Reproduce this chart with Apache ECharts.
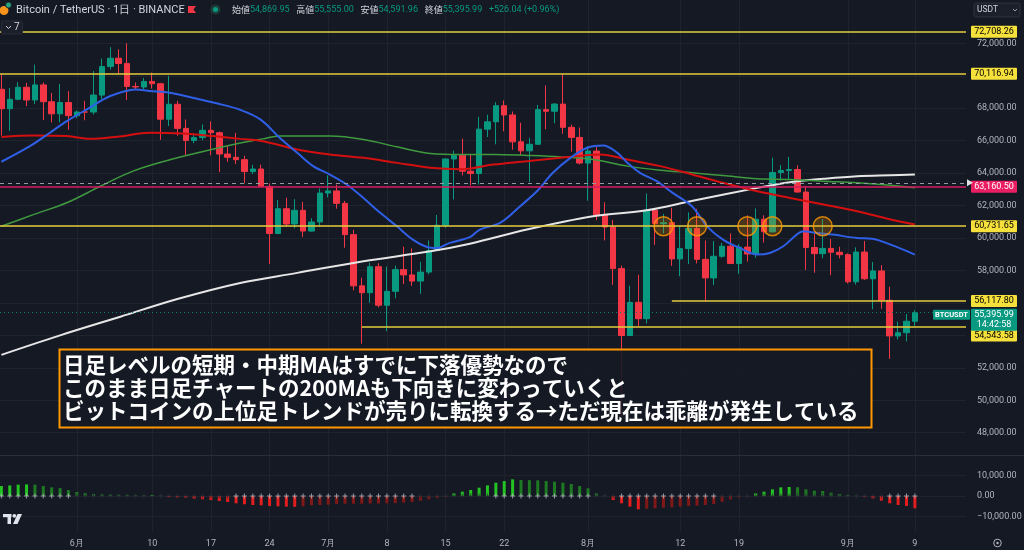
<!DOCTYPE html>
<html><head><meta charset="utf-8">
<script src="https://cdn.jsdelivr.net/npm/echarts@6/dist/echarts.min.js"></script>
<style>html,body{margin:0;padding:0;background:#151924;}#c{width:1024px;height:550px;}</style>
</head><body><div id="c"></div>
<script>
// ---------- DATA ----------
// Daily candles, 2024-05-23 .. 2024-09-09, index 0 = May 23. [open, high, low, close]
const candles = [
[69166,70096,66312,67970],[67970,69250,66600,68549],[68549,69610,68500,69290],[69290,69562,68128,68507],
[68507,70687,68250,69436],[69436,69591,67277,68399],[68399,68935,67124,67652],[67652,69500,67128,68352],
[68352,69044,66670,67540],[67540,67860,67386,67766],[67766,68460,67257,67765],[67765,70288,67612,68809],
[68809,71063,68567,70567],[70567,71758,70383,71082],[71082,71625,70119,70757],[70757,71997,68500,69343],
[69343,69584,69180,69306],[69306,69860,69131,69648],[69648,70196,69208,69509],[69509,69560,66051,67321],
[67321,69999,66902,68243],[68243,68450,66304,66756],[66756,67303,65078,66011],[66011,66447,65846,66191],
[66191,66999,66024,66639],[66639,67188,65094,66490],[66490,66556,64060,65175],[65175,65727,64693,64975],
[64975,66482,64559,64828],[64828,65066,63379,64097],[64097,64520,63943,64253],[64253,64527,63178,63180],
[63180,63370,58402,60277],[60277,62350,60240,61804],[61804,62480,60714,60864],[60864,62389,60606,61706],
[61706,62225,60063,60427],[60427,61224,60383,60987],[60987,63058,60712,62772],[62772,63862,62497,62900],
[62900,63288,61806,62135],[62135,62285,59400,60208],[60208,60498,56771,57050],[57050,57546,53485,56628],
[56628,58475,56018,58230],[58230,58449,55724,55857],[55857,58236,54260,56714],[56714,58296,56289,58052],
[58052,59470,57157,57725],[57725,59360,57052,57345],[57345,58526,56554,57899],[57899,59850,57756,59231],
[59231,61420,59218,60787],[60787,64900,60632,64870],[64870,65388,62373,65098],[65098,66128,63858,64118],
[64118,65133,63238,63974],[63974,67474,63300,66710],[66710,67598,66222,67163],[67163,68373,65777,68154],
[68154,68480,66574,67585],[67585,67798,65441,65927],[65927,67102,65111,65372],[65372,66175,63456,65777],
[65777,68200,65749,67912],[67912,69399,66705,67813],[67813,68318,67066,68255],[68255,70079,66428,66819],
[66819,66987,65323,66201],[66201,66810,64532,64619],[64619,65659,62302,65357],[65357,65596,61100,61415],
[61415,62198,59850,60680],[60680,61117,57122,58116],[58116,58305,49000,53991],[53991,57059,53973,56034],
[56034,57736,54558,55027],[55027,62745,54730,61711],[61711,61800,59575,60880],[60880,61488,60288,60945],
[60945,61858,58286,58713],[58713,60699,57642,59346],[59346,61578,58392,60588],[60588,61800,58433,58685],
[58685,59849,56078,57541],[57541,59817,57098,58874],[58874,59700,58785,59491],[59491,60284,58408,58427],
[58427,59618,57787,59438],[59438,61400,58548,59013],[59013,61820,58783,61157],[61157,61400,59724,60382],
[60382,64955,60342,64038],[64038,64494,63531,64157],[64157,64999,63594,64220],[64220,64481,62800,62834],
[62834,63212,58034,59415],[59415,60234,57860,59034],[59034,61166,58756,59359],[59359,59944,57703,59123],
[59123,59462,58744,58973],[58973,59054,57201,57301],[57301,59425,57128,59132],[59132,59809,57415,57487],
[57487,58519,55606,57971],[57971,58327,55643,56160],[56160,56995,52550,53962],[53962,54850,53745,54160],
[54160,55318,53629,54870],[54869.95,55555,54591.96,55395.99]
];
// Moving averages: [day index, price]
const maBlue = [[0,64700],[3.4,65660],[5.8,66490],[7.8,67200],[10.2,67930],[13,68750],[16,69160],[17.7,69060],[20.1,68950],[23.7,68540],[25.7,68300],[28.5,67900],[30.9,67310],[33.2,66180],[35.3,65250],[37.2,64430],[39.2,63910],[41.2,63300],[43.2,62470],[45.2,61550],[47.2,60720],[49.1,59900],[50.8,59450],[52,59390],[53.5,59700],[55.9,60050],[57.1,60520],[59.5,60930],[61.9,61960],[63.9,62880],[65.8,64020],[67.9,64940],[69.9,65560],[71.8,65700],[73.5,65250],[74.7,64630],[76.2,64020],[78.2,63500],[80.1,62780],[82.4,61960],[84.2,60720],[86.1,59900],[88.1,59390],[90.2,58980],[91.7,59080],[93.3,59490],[94.9,60210],[95.7,60410],[97.3,60310],[99.2,60210],[102.1,60000],[103.9,59960],[106.1,59590],[109,58980]];
const maRed = [[0,66230],[3.8,66320],[7.8,66280],[10.6,66110],[13.8,66240],[17.7,66490],[21.7,66440],[25.3,66280],[28.5,66110],[31.2,65970],[35.3,65460],[39.2,65150],[43.2,64940],[47.2,64630],[51.2,64330],[54.7,64240],[58.7,64530],[62.7,64730],[66.7,64940],[71.4,65150],[74.7,64840],[78.6,64430],[82.2,63950],[86.1,63400],[90.2,62880],[94.1,62470],[98.1,62060],[102.1,61650],[106.1,61140],[109,60830]];
const maGreen = [[0,60720],[3.8,61440],[7.8,62170],[11.8,63190],[15.7,64120],[19.8,64780],[23.7,65290],[28.5,65850],[31.2,66110],[33.2,66280],[39.2,66280],[43.2,66070],[47.2,65620],[51.2,65210],[54.7,65150],[58.7,65150],[62.7,65090],[66.7,65000],[70.6,64840],[74.7,64430],[78.6,64180],[82.4,64020],[86.1,63850],[90.2,63650],[94.1,63610],[98.1,63500],[102.1,63400],[106.1,63250],[109,63090]];
const maWhite = [[0,52800],[7,54000],[14.2,55150],[21,56240],[28.5,57230],[35.3,57850],[43.2,58570],[51.2,59180],[55.9,59650],[62.7,60520],[70.6,61340],[77,61710],[82.5,62300],[90.2,63090],[94.1,63440],[98.1,63650],[102.1,63810],[106.1,63870],[109,63910]];
// Momentum histogram (lower pane), one value per day
const momentum = [4900,5200,5600,5700,5550,4900,4250,3900,2940,1960,1470,980,820,650,600,560,330,300,490,160,
-490,-650,-820,-1300,-1630,-1960,-2450,-2940,-3600,-4080,-4410,-4570,-4900,-5070,-5230,-5300,-5070,-4570,-4410,-4250,
-3900,-3800,-3780,-3760,-3700,-3650,-3600,-3500,-3270,-2940,-2290,-1630,-980,-330,1300,2120,2940,4080,5230,6540,
7350,8170,7840,7800,7700,7350,7030,6540,5880,4900,3760,1310,160,-1960,-3600,-5230,-6540,-6210,-6050,-5720,
-5560,-5230,-4900,-4740,-4410,-3920,-2780,-1630,-650,-160,1310,2120,3270,4250,4410,4300,3270,2610,2450,1630,
980,490,160,-330,-1140,-2290,-3600,-4410,-4900,-6050];
const squeezeRanges = [[9,27],[50,58],[71,73],[86,105]]; // day ranges with dark zero-line crosses
// Time axis
const tickIdx = [9,18,25,32,39,46,53,60,70,81,88,101,109];
const tickLabels = ['6月','10','17','24','7月','8','15','22','8月','12','19','9月','9'];
// Price axis
const priceTicks = [48000,50000,52000,54000,56000,58000,60000,62000,64000,66000,68000,70000,72000];
const priceLabels = [48000,50000,52000,58000,60000,62000,64000,66000,68000,72000];
const momTicks = [-10000,0,10000];
// Drawn levels
const yellowFull = [72708.26, 70116.94, 60731.65];
const yellowPartial = [[80,56117.80],[43,54543.58]]; // [start day, price]
const magentaLevel = 63160.50;
const dashedLevel = 63380;
const lastPrice = 55395.99;
const circleDays = [79,83,89,92,98];
const circleLevel = 60731.65;
const header = {o:'54,869.95', h:'55,555.00', l:'54,591.96', c:'55,395.99', chg:'+526.04 (+0.96%)'};
const noteLines = ['日足レベルの短期・中期MAはすでに下落優勢なので','このまま日足チャートの200MAも下向きに変わっていくと','ビットコインの上位足トレンドが売りに転換する→ただ現在は乖離が発生している'];

// ---------- CHART ----------
const UP='#089981', DOWN='#f23645', YEL='#e3cc3c', TAGY='#f5e03c', GRIDC='#1f232e', AXT='#b2b5be';
const X_MIN=-0.167, X_MAX=115.1;
const chart = echarts.init(document.getElementById('c'));
const fmtP = v => (v<0?'−':'') + Math.abs(v).toLocaleString('en-US',{minimumFractionDigits:2,maximumFractionDigits:2});
const candleData = candles.map((d,i)=>[i,d[0],d[3],d[2],d[1]]);
const inSq = i => squeezeRanges.some(r=>i>=r[0]&&i<=r[1]);

const markData = [];
yellowFull.forEach(p=>markData.push({yAxis:p, lineStyle:{color:YEL,width:1.5,type:'solid'}}));
yellowPartial.forEach(d=>markData.push([{coord:[d[0],d[1]], lineStyle:{color:YEL,width:1.5,type:'solid'}},{coord:[X_MAX,d[1]]}]));
markData.push({yAxis:magentaLevel, lineStyle:{color:'#d81b60',width:1.5,type:'solid'}});
markData.push({yAxis:dashedLevel, lineStyle:{color:'#9598a1',width:1,type:[4,4]}});
markData.push({yAxis:lastPrice, lineStyle:{color:'#0d7d6c',width:1,type:[1,3]}});

const maLine = (data,color,w)=>({type:'line',xAxisIndex:0,yAxisIndex:0,data,smooth:0.35,symbol:'none',silent:true,lineStyle:{color,width:w},z:4});

const option = {
  backgroundColor:'#151924',
  animation:false,
  grid:[{left:0,top:0,width:966,height:455,outerBoundsMode:'none'},{left:0,top:456,width:966,height:76,outerBoundsMode:'none'}],
  xAxis:[
    {type:'value',gridIndex:0,min:X_MIN,max:X_MAX,axisLine:{show:false},axisLabel:{show:false},axisTick:{show:false,customValues:tickIdx},splitLine:{show:true,lineStyle:{color:GRIDC,width:1}}},
    {type:'value',gridIndex:1,min:X_MIN,max:X_MAX,axisLine:{show:false},axisTick:{show:false,customValues:tickIdx},
     axisLabel:{show:true,customValues:tickIdx,formatter:v=>tickLabels[tickIdx.indexOf(Math.round(v))]||'',color:AXT,fontSize:9,margin:7,fontFamily:'Roboto'},
     splitLine:{show:true,lineStyle:{color:GRIDC,width:1}}}
  ],
  yAxis:[
    {type:'value',gridIndex:0,position:'right',min:46626,max:74669,axisLine:{show:false},axisTick:{show:false,customValues:priceTicks},
     axisLabel:{customValues:priceLabels,formatter:fmtP,color:AXT,fontSize:9,margin:11,fontFamily:'Roboto'},
     splitLine:{show:true,lineStyle:{color:GRIDC,width:1}}},
    {type:'value',gridIndex:1,position:'right',min:-17690,max:19656,axisLine:{show:false},axisTick:{show:false,customValues:momTicks},
     axisLabel:{customValues:momTicks,formatter:fmtP,color:AXT,fontSize:9,margin:11,fontFamily:'Roboto'},
     splitLine:{show:true,lineStyle:{color:GRIDC,width:1}}}
  ],
  series:[
    {type:'candlestick',xAxisIndex:0,yAxisIndex:0,data:candleData,encode:{x:0,y:[1,2,3,4]},barWidth:6,silent:true,z:3,
     itemStyle:{color:UP,color0:DOWN,borderColor:UP,borderColor0:DOWN,borderWidth:1},
     markLine:{silent:true,symbol:['none','none'],label:{show:false},emphasis:{disabled:true},animation:false,data:markData,z:5}},
    maLine(maWhite,'#e6e6e6',2),
    maLine(maGreen,'#3f9a3f',1.5),
    maLine(maRed,'#d40f0f',2),
    maLine(maBlue,'#2f5fe6',2),
    {type:'scatter',xAxisIndex:0,yAxisIndex:0,data:circleDays.map(d=>[d,circleLevel]),symbolSize:19,silent:true,z:6,
     itemStyle:{color:'rgba(255,152,0,0.28)',borderColor:'#ff9800',borderWidth:1.5}},
    {type:'bar',xAxisIndex:1,yAxisIndex:1,data:momentum.map((v,i)=>[i,v]),barWidth:3,silent:true,
     itemStyle:{color:p=>{const i=p.dataIndex,v=momentum[i],pv=i>0?momentum[i-1]:v;
       return v>=0?(v>=pv?'#22c322':'#1d7a23'):(v<=pv?'#e21d1d':'#801818');}}},
    {type:'scatter',xAxisIndex:1,yAxisIndex:1,data:momentum.map((v,i)=>[i,0]),symbol:'path://M4,0H6V4H10V6H6V10H4V6H0V4H4Z',symbolSize:5,silent:true,z:5,
     itemStyle:{color:p=>inSq(p.dataIndex)?'#2a2d36':'#b8bac0'}}
  ]
};
chart.setOption(option);

// ---------- ANNOTATIONS (positions from the axes) ----------
const py = v => chart.convertToPixel({yAxisIndex:0}, v);
const px = d => chart.convertToPixel({xAxisIndex:0}, d);
const G = [];
const tag = (v,text,bg,fg,dy)=>{const y=py(v)+dy;
  G.push({type:'rect',z:100,shape:{x:971,y:y-6,width:46,height:12,r:1},style:{fill:bg}});
  G.push({type:'text',z:101,x:994,y:y,style:{text,fill:fg,fontSize:9,fontFamily:'Roboto',align:'center',verticalAlign:'middle'}});};
tag(yellowFull[0],fmtP(yellowFull[0]),TAGY,'#000',0);
tag(yellowFull[1],fmtP(yellowFull[1]),TAGY,'#000',0);
tag(magentaLevel,fmtP(magentaLevel),'#e91e63','#fff',0);
tag(yellowFull[2],fmtP(yellowFull[2]),TAGY,'#000',0);
tag(yellowPartial[0][1],fmtP(yellowPartial[0][1]),TAGY,'#000',0);
tag(yellowPartial[1][1],fmtP(yellowPartial[1][1]),TAGY,'#000',9);
// last price tag
{const y=py(lastPrice);
 G.push({type:'rect',z:100,shape:{x:971,y:y-4,width:46,height:22,r:1},style:{fill:UP}});
 G.push({type:'text',z:101,x:994,y:y+2,style:{text:fmtP(lastPrice),fill:'#fff',fontSize:9,fontFamily:'Roboto',align:'center',verticalAlign:'middle'}});
 G.push({type:'text',z:101,x:994,y:y+12,style:{text:'14:42:58',fill:'#fff',fontSize:9,fontFamily:'Roboto',align:'center',verticalAlign:'middle'}});
 G.push({type:'rect',z:100,shape:{x:933,y:y-3,width:37,height:10,r:1},style:{fill:UP}});
 G.push({type:'text',z:101,x:951.5,y:y+2,style:{text:'BTCUSDT',fill:'#fff',fontSize:7.5,fontWeight:'bold',fontFamily:'Roboto',align:'center',verticalAlign:'middle'}});}
// dashed line end marker
{const y=py(dashedLevel); G.push({type:'polygon',z:100,shape:{points:[[967,y-4],[967,y+3],[973,y-0.5]]},style:{fill:'#e0e0e0'}});}
// pane separator
G.push({type:'line',z:100,shape:{x1:0,y1:455.5,x2:1024,y2:455.5},style:{stroke:'#2a2e39',lineWidth:1}});
// note box
G.push({type:'rect',z:100,shape:{x:59.5,y:349.5,width:812,height:78},style:{fill:'rgba(21,25,36,0.88)',stroke:'#ff9800',lineWidth:2}});
G.push({type:'text',z:101,x:63,y:353,style:{text:noteLines.join('\n'),fill:'#ffffff',fontSize:21.5,lineHeight:23,fontWeight:'bold',fontFamily:'"Noto Sans CJK JP"',verticalAlign:'top'}});
// header
G.push({type:'circle',z:100,shape:{cx:4,cy:10.5,r:4.5},style:{fill:'#f7931a'}});
G.push({type:'circle',z:101,shape:{cx:8.5,cy:5,r:3},style:{fill:'#26a17b',stroke:'#151924',lineWidth:0.8}});
G.push({type:'text',z:100,x:16,y:10,style:{text:'Bitcoin / TetherUS · 1日 · BINANCE',fill:'#d1d4dc',fontSize:11,fontFamily:'Roboto',verticalAlign:'middle'}});
G.push({type:'polygon',z:100,shape:{points:[[188,6],[196,6],[193.5,9.5],[196,13],[188,13]]},style:{fill:'#f23645'}});
G.push({type:'circle',z:100,shape:{cx:215.5,cy:9.5,r:5},style:{fill:'#1d3b37'}});
G.push({type:'circle',z:101,shape:{cx:215.5,cy:9.5,r:2.5},style:{fill:UP}});
G.push({type:'text',z:100,x:232,y:10,style:{text:`{l|始値}{v|${header.o}}  {l|高値}{v|${header.h}}  {l|安値}{v|${header.l}}  {l|終値}{v|${header.c}}  {v|${header.chg}}`,
  verticalAlign:'middle',rich:{l:{fill:'#d1d4dc',fontSize:9,fontFamily:'"Noto Sans CJK JP"'},v:{fill:UP,fontSize:9,fontFamily:'Roboto'}}}});
G.push({type:'rect',z:100,shape:{x:1.5,y:21,width:21,height:13,r:2},style:{fill:'#1b1f2a',stroke:'#2a2e39',lineWidth:1}});
G.push({type:'polyline',z:101,shape:{points:[[6,26],[8.5,28.5],[11,26]]},style:{stroke:'#d1d4dc',lineWidth:1,fill:null}});
G.push({type:'text',z:101,x:14,y:27.5,style:{text:'7',fill:'#d1d4dc',fontSize:10,fontFamily:'Roboto',verticalAlign:'middle'}});
// USDT button
G.push({type:'rect',z:100,shape:{x:974,y:3,width:46,height:14,r:2},style:{fill:'#1c202b',stroke:'#2e323d',lineWidth:1}});
G.push({type:'text',z:101,x:977,y:10,style:{text:'USDT',fill:'#d1d4dc',fontSize:8.5,fontFamily:'Roboto',verticalAlign:'middle'}});
G.push({type:'polyline',z:101,shape:{points:[[1013,9],[1015,11],[1017,9]]},style:{stroke:'#9598a1',lineWidth:1,fill:null}});
// TradingView logo
G.push({type:'rect',z:100,shape:{x:3,y:514,width:8.5,height:3.2},style:{fill:'#e0e3eb'}});
G.push({type:'rect',z:100,shape:{x:7.5,y:514,width:3.5,height:10},style:{fill:'#e0e3eb'}});
G.push({type:'circle',z:100,shape:{cx:14.3,cy:515.8,r:1.9},style:{fill:'#e0e3eb'}});
G.push({type:'polygon',z:100,shape:{points:[[17.5,514],[22,514],[17.5,524],[13,524]]},style:{fill:'#e0e3eb'}});
// settings icon bottom right
G.push({type:'circle',z:100,shape:{cx:997.5,cy:543,r:3.8},style:{fill:null,stroke:'#b2b5be',lineWidth:1}});
G.push({type:'circle',z:100,shape:{cx:997.5,cy:543,r:1.2},style:{fill:'#b2b5be'}});
chart.setOption({graphic:G});
</script></body></html>
